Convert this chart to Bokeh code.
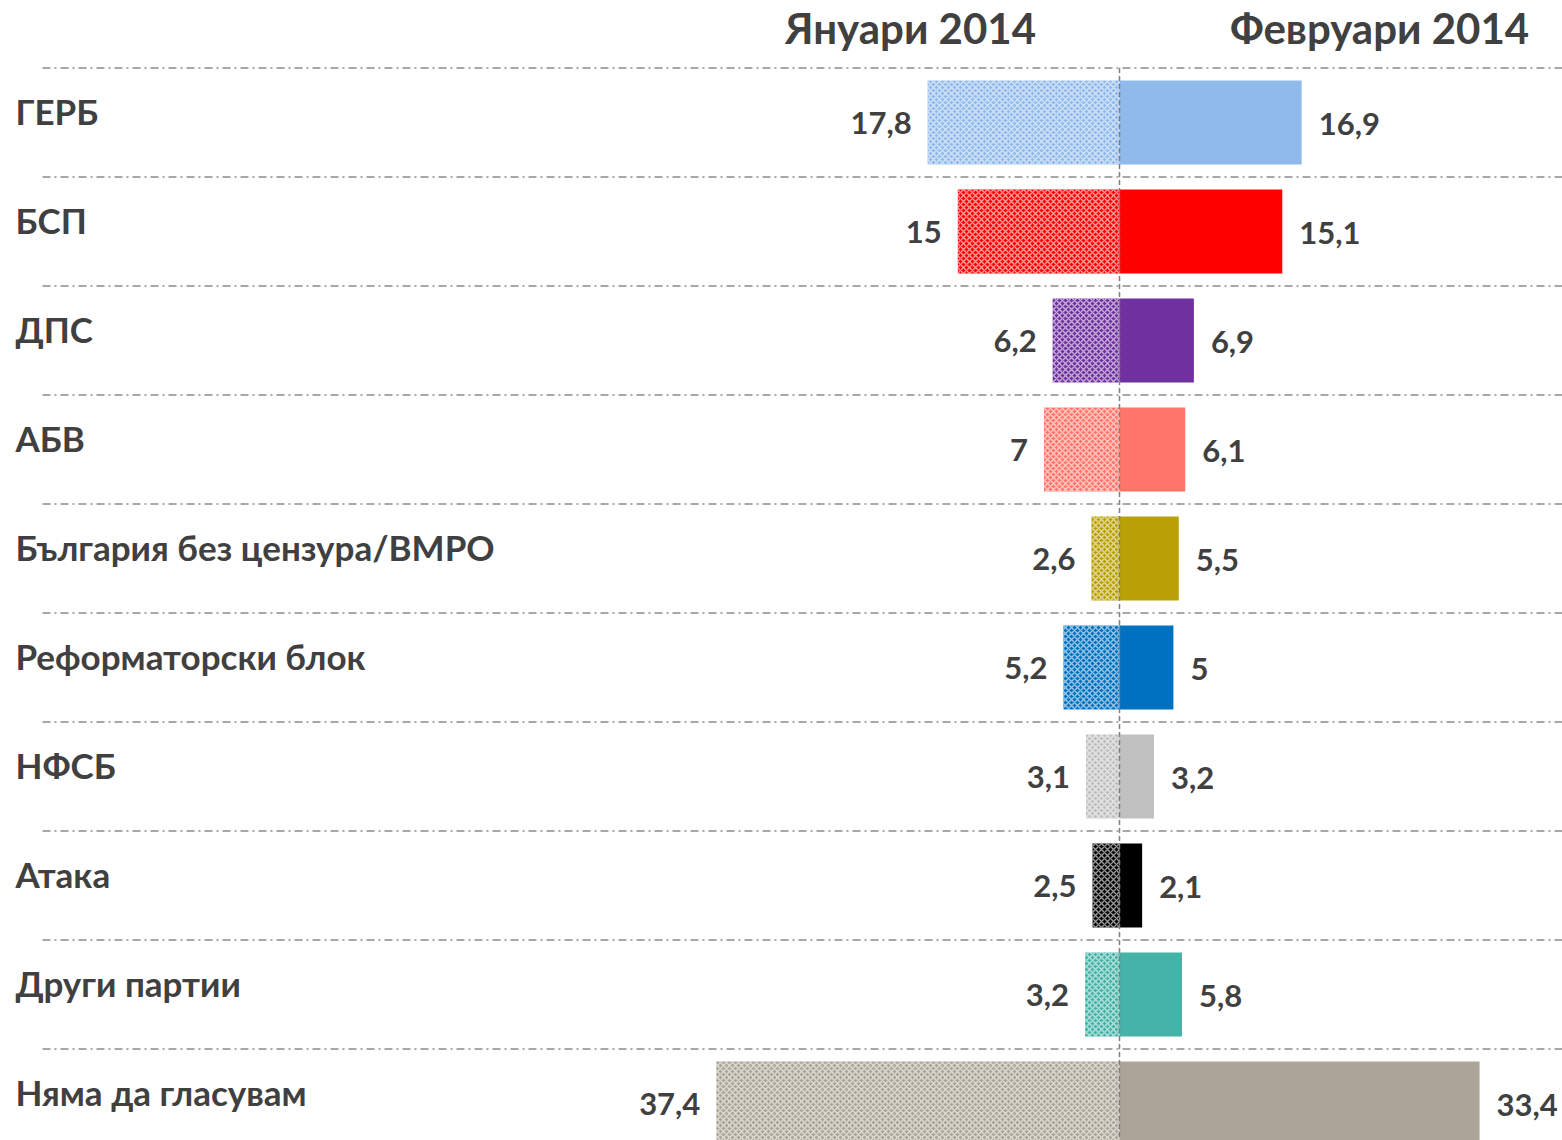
from bokeh.plotting import figure
from bokeh.models import Range1d, ColumnDataSource
from bokeh.core.properties import value
from bokeh.embed import file_html
from bokeh.resources import INLINE

categories = ["ГЕРБ", "БСП", "ДПС", "АБВ", "България без цензура/ВМРО",
              "Реформаторски блок", "НФСБ", "Атака", "Други партии", "Няма да гласувам"]
jan = [17.8, 15, 6.2, 7, 2.6, 5.2, 3.1, 2.5, 3.2, 37.4]
feb = [16.9, 15.1, 6.9, 6.1, 5.5, 5.0, 3.2, 2.1, 5.8, 33.4]
colors = ["#8FBAEB", "#FF0000", "#7030A0", "#FF7569", "#B9A006",
          "#0070C0", "#C0C0C0", "#000000", "#45B3A8", "#ACA497"]
headers = ["Януари 2014", "Февруари 2014"]

def fmt(v):
    s = ("%.1f" % v).rstrip("0").rstrip(".")
    return s.replace(".", ",")

W, H = 1562, 1140
PX = 10.78          # pixels per unit
CX = 1119           # zero position in figure pixels
RH = 109            # row height px
R0 = 122            # first row centre px

x0 = -CX / PX
x1 = (W - CX) / PX
ytop = -R0 / RH
ybot = (H - R0) / RH

p = figure(width=W, height=H, x_range=Range1d(x0, x1), y_range=Range1d(ybot, ytop),
           output_backend="svg", toolbar_location=None, min_border=0,
           background_fill_color="white", border_fill_color="white")
p.axis.visible = False
p.grid.visible = False
p.outline_line_color = None

n = len(categories)
ys = list(range(n))
font = value("Lato")
tc = "#404040"

# separators
sep_y = [i - 0.5 for i in range(n)]
p.segment(x0=[x0 + 42 / PX] * n, x1=[x1] * n, y0=sep_y, y1=sep_y,
          line_color="#8C8C8C", line_width=1.5, line_dash="8 4 2 4")

src = ColumnDataSource(dict(y=ys, jan=[-v for v in jan], feb=feb, c=colors,
                            jl=[fmt(v) for v in jan], fl=[fmt(v) for v in feb],
                            cat=categories, zero=[0] * n))

p.hbar(y="y", left="jan", right="zero", height=84 / RH, source=src,
       fill_color="c", fill_alpha=1.0, line_color=None,
       hatch_pattern="diagonal_cross", hatch_color="white", hatch_alpha=0.6,
       hatch_scale=6, hatch_weight=1.4)
p.hbar(y="y", left="zero", right="feb", height=84 / RH, source=src,
       fill_color="c", line_color=None)

# centre line
p.segment(x0=[0], x1=[0], y0=[-0.5], y1=[ybot], line_color="#7F7F7F",
          line_width=1.5, line_dash="5 3")

p.text(x="jan", y="y", text="jl", source=src, x_offset=-16, y_offset=0,
       text_align="right", text_baseline="alphabetic", text_font=font,
       text_font_style="bold", text_font_size="31px", text_color=tc)
p.text(x="feb", y="y", text="fl", source=src, x_offset=17, y_offset=1,
       text_align="left", text_baseline="alphabetic", text_font=font,
       text_font_style="bold", text_font_size="31px", text_color=tc)
p.text(x=x0 + 15 / PX, y="y", text="cat", source=src, y_offset=-12,
       text_align="left", text_baseline="alphabetic", text_font=font,
       text_font_style="bold", text_font_size="35px", text_color=tc)

hy = ytop + 27 / RH
p.text(x=[(910 - CX) / PX, (1379 - CX) / PX], y=[hy, hy], text=headers,
       text_align="center", text_baseline="alphabetic", text_font=font,
       text_font_style="bold", text_font_size="42px", text_color=tc)

open("out.html", "w").write(file_html(p, INLINE))
